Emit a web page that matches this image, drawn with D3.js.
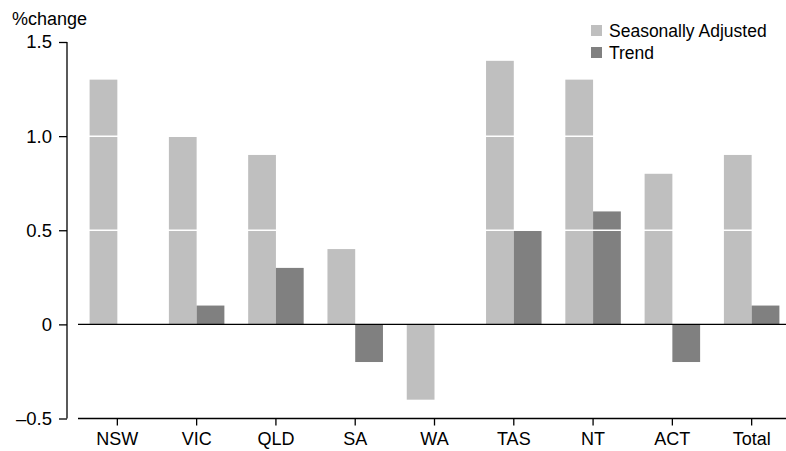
<!DOCTYPE html>
<html>
<head>
<meta charset="utf-8">
<script src="https://cdn.jsdelivr.net/npm/d3@7"></script>
<style>
html,body{margin:0;padding:0;background:#fff;}
svg{display:block;}
text{font-family:"Liberation Sans",Arial,sans-serif;fill:#000;}
</style>
</head>
<body>
<svg id="chart" width="786" height="451"></svg>
<script>
const categories = ["NSW","VIC","QLD","SA","WA","TAS","NT","ACT","Total"];
const seriesNames = ["Seasonally Adjusted","Trend"];
const seasonallyAdjusted = [1.3,1.0,0.9,0.4,-0.4,1.4,1.3,0.8,0.9];
const trend = [0,0.1,0.3,-0.2,0,0.5,0.6,-0.2,0.1];
const yTicks = [-0.5,0,0.5,1.0,1.5];
const yTickLabels = ["\u20130.5","0","0.5","1.0","1.5"];
const colors = ["#bfbfbf","#808080"];

const svg = d3.select("#chart");
const y = d3.scaleLinear().domain([-0.5,1.5]).range([418.5,42]);
const x0 = d3.scaleBand().domain(categories).range([77.7,791.3]).padding(0);
const bw = x0.bandwidth()*0.35;
const x1 = d3.scaleBand().domain(seriesNames).range([x0.bandwidth()/2-bw, x0.bandwidth()/2+bw]).padding(0);

const data = categories.map((c,i)=>({cat:c, vals:[seasonallyAdjusted[i], trend[i]]}));

const g = svg.append("g");
data.forEach(d=>{
  d.vals.forEach((v,j)=>{
    if(v===0) return;
    g.append("rect")
      .attr("x", x0(d.cat)+x1(seriesNames[j]))
      .attr("width", x1.bandwidth())
      .attr("y", y(Math.max(0,v)))
      .attr("height", Math.abs(y(v)-y(0)))
      .attr("fill", colors[j]);
  });
});

// white gridlines over bars
[0.5,1.0,1.5].forEach(t=>{
  svg.append("line").attr("x1",78).attr("x2",786)
    .attr("y1",y(t)).attr("y2",y(t))
    .attr("stroke","#ffffff").attr("stroke-width",1.5);
});

// zero line
svg.append("line").attr("x1",78).attr("x2",786)
  .attr("y1",y(0)).attr("y2",y(0)).attr("stroke","#000").attr("stroke-width",1.3);

// y axis
const yAxis = d3.axisLeft(y).tickValues(yTicks).tickSize(8).tickPadding(7)
  .tickFormat((d,i)=>yTickLabels[i]);
const ya = svg.append("g").attr("transform","translate(67,0)").call(yAxis);
ya.select(".domain").attr("d",`M0,${y(1.5)}V${y(-0.5)}`).attr("stroke","#000").attr("stroke-width",1.3);
ya.selectAll(".tick line").attr("stroke","#000").attr("stroke-width",1.3);
ya.selectAll(".tick text").attr("font-size",18.5).attr("font-family","Liberation Sans, Arial, sans-serif").attr("fill","#000");

// x axis
const xAxis = d3.axisBottom(x0).tickSize(7).tickPadding(7);
const xa = svg.append("g").attr("transform",`translate(0,${y(-0.5)})`).call(xAxis);
xa.select(".domain").attr("d","M78,0H786").attr("stroke","#000").attr("stroke-width",1.3);
xa.selectAll(".tick line").attr("stroke","#000").attr("stroke-width",1.3);
xa.selectAll(".tick text").attr("font-size",18).attr("font-family","Liberation Sans, Arial, sans-serif").attr("fill","#000");

// y title
svg.append("text").attr("x",12).attr("y",25).attr("font-size",18).text("%change");

// legend
const leg = svg.append("g");
seriesNames.forEach((s,i)=>{
  leg.append("rect").attr("x",591).attr("y",25+i*22).attr("width",11).attr("height",11).attr("fill",colors[i]);
  leg.append("text").attr("x",609).attr("y",36.5+i*22).attr("font-size",17.5).text(s);
});
</script>
</body>
</html>
